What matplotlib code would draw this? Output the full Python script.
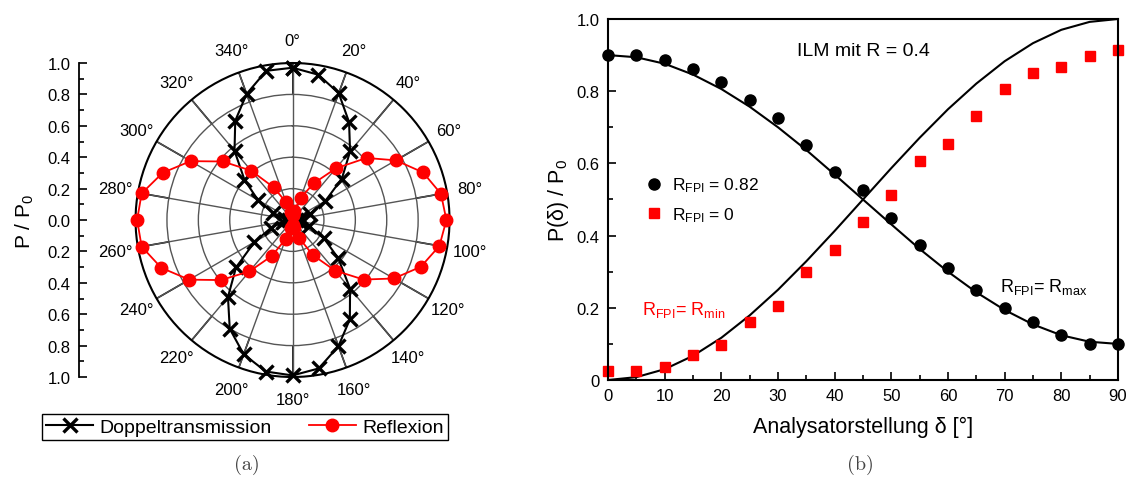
import numpy as np
import matplotlib
matplotlib.use('Agg')
import matplotlib.pyplot as plt
from matplotlib.ticker import MultipleLocator, FuncFormatter
from matplotlib.lines import Line2D

plt.rcParams['font.family'] = ['Liberation Sans', 'DejaVu Sans']
plt.rcParams['mathtext.fontset'] = 'custom'
plt.rcParams['mathtext.rm'] = 'Liberation Sans'
plt.rcParams['mathtext.it'] = 'Liberation Sans:italic'

# (a) polar measurement, every 10 degrees
theta_deg = list(range(0, 360, 10))
r_trans = [0.97, 0.94, 0.86, 0.72, 0.57, 0.41, 0.24, 0.12, 0.05, 0.02,
           0.04, 0.11, 0.23, 0.38, 0.57, 0.73, 0.855, 0.96, 0.99, 0.98,
           0.91, 0.80, 0.64, 0.47, 0.28, 0.145, 0.06, 0.02, 0.05, 0.13,
           0.255, 0.40, 0.575, 0.73, 0.855, 0.965]
r_refl = [0.03, 0.06, 0.15, 0.27, 0.43, 0.615, 0.76, 0.885, 0.96, 0.98,
          0.95, 0.87, 0.745, 0.59, 0.42, 0.257, 0.12, 0.05, 0.03, 0.05,
          0.13, 0.264, 0.427, 0.595, 0.76, 0.89, 0.976, 0.99, 0.976, 0.88,
          0.75, 0.58, 0.41, 0.24, 0.12, 0.05]

# (b) analyser angle scan
delta = list(range(0, 95, 5))
p_fpi082 = [0.90, 0.90, 0.887, 0.862, 0.825, 0.775, 0.725, 0.65, 0.575, 0.525,
            0.45, 0.375, 0.31, 0.25, 0.20, 0.162, 0.125, 0.10, 0.10]
p_fpi0 = [0.025, 0.025, 0.035, 0.068, 0.098, 0.16, 0.205, 0.30, 0.36, 0.437,
          0.513, 0.606, 0.653, 0.73, 0.806, 0.851, 0.867, 0.897, 0.915]
# model curves (ILM, R = 0.4)
curve_rmax = [0.90, 0.894, 0.876, 0.846, 0.806, 0.757, 0.70, 0.637, 0.569, 0.50,
              0.431, 0.363, 0.30, 0.243, 0.194, 0.154, 0.124, 0.106, 0.10]
curve_rmin = [0.0, 0.008, 0.03, 0.067, 0.117, 0.179, 0.25, 0.329, 0.413, 0.50,
              0.587, 0.671, 0.75, 0.821, 0.883, 0.933, 0.97, 0.992, 1.0]

fig = plt.figure(figsize=(11.35, 4.85), dpi=100)

# ---- polar plot ----
ax = fig.add_axes([0.1194, 0.2206, 0.2767, 0.6474], projection='polar')
ax.set_theta_zero_location('N')
ax.set_theta_direction(-1)
ax.set_ylim(0, 1)
ax.set_rgrids([0.2, 0.4, 0.6, 0.8], labels=[])
grid_angles = list(range(0, 360, 20))
ax.set_thetagrids(grid_angles, labels=[f'{a}°' for a in grid_angles])
ax.tick_params(axis='x', pad=6, labelsize=12)
ax.grid(True, color='#555555', lw=1.0)
ax.spines['polar'].set_linewidth(1.5)
for a in grid_angles:
    ax.plot([np.radians(a)] * 2, [0.8, 1.0], color='black', lw=1.2, zorder=1)

th = np.radians(theta_deg + [theta_deg[0]])
ax.plot(th, r_trans + [r_trans[0]], color='black', lw=1.5, marker='x',
        ms=10, mew=2.4, zorder=3, clip_on=False)
ax.plot(th, r_refl + [r_refl[0]], color='red', lw=1.3, marker='o',
        ms=9, zorder=4, clip_on=False)

# radial scale on the left
axr = fig.add_axes([0.0696, 0.2206, 0.01, 0.6474])
axr.set_ylim(-1, 1)
axr.set_xlim(0, 1)
for s in ['top', 'right', 'bottom']:
    axr.spines[s].set_visible(False)
axr.spines['left'].set_linewidth(1.3)
axr.set_xticks([])
axr.yaxis.set_major_locator(MultipleLocator(0.2))
axr.yaxis.set_minor_locator(MultipleLocator(0.1))
axr.yaxis.set_major_formatter(FuncFormatter(lambda v, p: f'{abs(v):.1f}'))
axr.tick_params(axis='y', which='major', direction='in', length=6, width=1.2,
                labelsize=12, pad=6)
axr.tick_params(axis='y', which='minor', direction='in', length=3.5, width=1.2)
axr.set_ylabel('P / P$_0$', fontsize=15, labelpad=8)

handles = [Line2D([], [], color='black', lw=1.5, marker='x', ms=10, mew=2.4),
           Line2D([], [], color='red', lw=1.3, marker='o', ms=9)]
leg = fig.legend(handles, ['Doppeltransmission', 'Reflexion'], loc='center',
                 bbox_to_anchor=(0.2159, 0.1175), ncol=2, fontsize=14,
                 fancybox=False, edgecolor='black', framealpha=1,
                 borderpad=0.2, handlelength=2.4, handletextpad=0.35,
                 columnspacing=1.9, borderaxespad=0)
leg.get_frame().set_linewidth(1.0)

# ---- analyser scan ----
bx = fig.add_axes([0.5357, 0.2144, 0.4493, 0.7444])
bx.plot(delta, curve_rmax, color='black', lw=1.5)
bx.plot(delta, curve_rmin, color='black', lw=1.5)
bx.plot(delta, p_fpi082, 'o', color='black', ms=8, clip_on=False,
        label='R$_{\\mathrm{FPI}}$ = 0.82')
bx.plot(delta, p_fpi0, 's', color='red', ms=7, mec='red', clip_on=False,
        label='R$_{\\mathrm{FPI}}$ = 0')
bx.set_xlim(0, 90)
bx.set_ylim(0, 1.0)
bx.xaxis.set_major_locator(MultipleLocator(10))
bx.xaxis.set_minor_locator(MultipleLocator(5))
bx.yaxis.set_major_locator(MultipleLocator(0.2))
bx.yaxis.set_minor_locator(MultipleLocator(0.1))
bx.yaxis.set_major_formatter(FuncFormatter(lambda v, p: '0' if v == 0 else f'{v:.1f}'))
bx.tick_params(which='major', direction='in', length=6, width=1.2, labelsize=12,
               pad=6)
bx.tick_params(which='minor', direction='in', length=3.5, width=1.2)
for s in bx.spines.values():
    s.set_linewidth(1.5)
bx.set_xlabel('Analysatorstellung δ [°]', fontsize=15.5, labelpad=9)
bx.set_ylabel('P(δ) / P$_0$', fontsize=15.5, labelpad=4)
bx.legend(loc='upper left', bbox_to_anchor=(0.06, 0.585), frameon=False,
          fontsize=12.5, handlelength=1.0, handletextpad=0.5, labelspacing=0.6,
          numpoints=1, borderaxespad=0)
bx.text(45, 0.912, 'ILM mit R = 0.4', fontsize=14, ha='center', va='center')
bx.text(13.3, 0.197, 'R$_{\\mathrm{FPI}}$= R$_{\\mathrm{min}}$', color='red',
        fontsize=13, ha='center', va='center')
bx.text(77.0, 0.26, 'R$_{\\mathrm{FPI}}$= R$_{\\mathrm{max}}$', color='black',
        fontsize=13, ha='center', va='center')

fig.text(0.2176, 0.041, '(a)', family='cmr10', fontsize=14.5, color='#444444',
         ha='center', va='center')
fig.text(0.7577, 0.041, '(b)', family='cmr10', fontsize=14.5, color='#444444',
         ha='center', va='center')

fig.savefig('out.png', dpi=100)
